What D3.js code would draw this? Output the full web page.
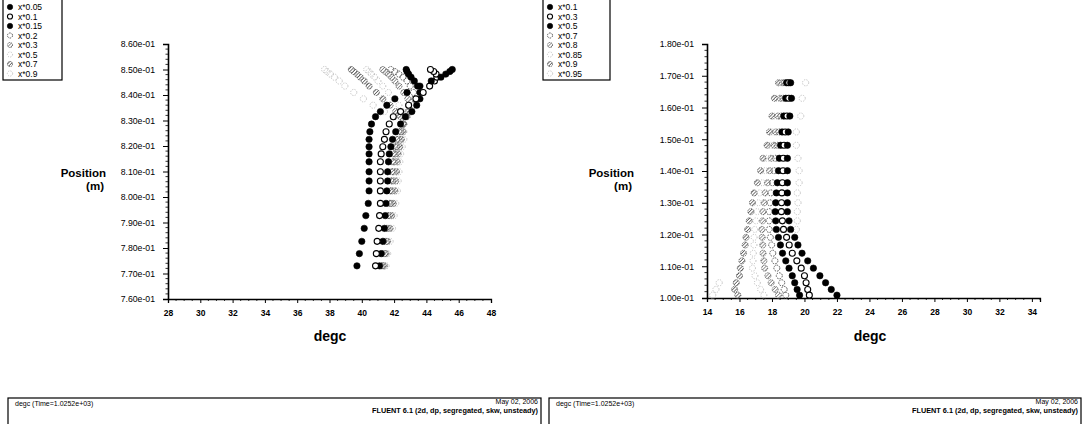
<!DOCTYPE html>
<html>
  <head>
    <title>FLUENT XY plot</title>
    <script src="https://d3js.org/d3.v7.min.js"></script>
    <style>
      body { margin: 0; background: #ffffff; }
      text { font-family: "Liberation Sans", Arial, sans-serif; fill: #000; }
    </style>
  </head>
  <body>
    <svg width="1083" height="424" id="mainsvg" style="background-color: #ffffff;"></svg>
    <script>
        // ---- data: left plot (degc vs position) ----
        const leftNames = ['x*0.05', 'x*0.1', 'x*0.15', 'x*0.2', 'x*0.3', 'x*0.5', 'x*0.7', 'x*0.9'];
        const leftPos = [0.7730, 0.7778, 0.7826, 0.7877, 0.7927, 0.7975, 0.8024, 0.8063, 0.8099, 0.8138, 0.8169, 0.8197, 0.8226,
                         0.8256, 0.8286, 0.8315, 0.8335, 0.8360, 0.8385, 0.8410, 0.8435, 0.8455, 0.8470, 0.8482, 0.8492, 0.8500];
        const left005 = [39.7, 39.85, 40.0, 40.15, 40.25, 40.4, 40.45, 40.45, 40.45, 40.45, 40.45, 40.45, 40.45, 40.5, 40.6, 40.85, 41.15, 41.55, 42.05, 42.8, 43.6, 44.3, 44.9, 45.2, 45.45, 45.6];
        const left010 = [40.85, 40.9, 40.95, 41.05, 41.1, 41.15, 41.15, 41.15, 41.15, 41.15, 41.2, 41.3, 41.4, 41.5, 41.7, 41.95, 42.4, 42.9, 43.35, 43.8, 44.2, 44.5, 44.65, 44.6, 44.45, 44.25];
        const left015 = [41.1, 41.2, 41.3, 41.4, 41.45, 41.5, 41.55, 41.6, 41.6, 41.65, 41.7, 41.8, 41.9, 42.1, 42.4, 42.7, 43.1, 43.4, 43.6, 43.6, 43.45, 43.25, 43.05, 42.9, 42.8, 42.75];
        const left020 = [41.2, 41.25, 41.35, 41.5, 41.6, 41.7, 41.75, 41.8, 41.85, 41.9, 41.95, 42.05, 42.15, 42.3, 42.55, 42.8, 43.0, 43.2, 43.25, 43.2, 43.0, 42.8, 42.55, 42.3, 42.05, 41.8];
        const left030 = [41.3, 41.4, 41.5, 41.6, 41.7, 41.8, 41.85, 41.9, 41.95, 42.0, 42.05, 42.15, 42.25, 42.4, 42.6, 42.75, 42.85, 42.9, 42.85, 42.6, 42.3, 42.05, 41.85, 41.65, 41.45, 41.3];
        const left050 = [41.35, 41.45, 41.55, 41.7, 41.8, 41.9, 41.95, 42.0, 42.05, 42.1, 42.15, 42.25, 42.35, 42.5, 42.6, 42.6, 42.5, 42.3, 42.0, 41.65, 41.3, 41.0, 40.8, 40.6, 40.45, 40.3];
        const left070 = [41.4, 41.5, 41.6, 41.75, 41.85, 41.95, 42.05, 42.1, 42.15, 42.2, 42.25, 42.35, 42.45, 42.55, 42.55, 42.4, 42.1, 41.75, 41.3, 40.9, 40.45, 40.15, 39.9, 39.7, 39.5, 39.35];
        const left090 = [41.5, 41.6, 41.75, 41.9, 42.0, 42.1, 42.2, 42.25, 42.3, 42.35, 42.4, 42.5, 42.6, 42.6, 42.5, 42.0, 41.4, 40.7, 40.1, 39.5, 38.95, 38.6, 38.3, 38.05, 37.85, 37.7];
        const leftXTicks = [28, 30, 32, 34, 36, 38, 40, 42, 44, 46, 48];
        const leftYTicks = [0.76, 0.77, 0.78, 0.79, 0.80, 0.81, 0.82, 0.83, 0.84, 0.85, 0.86];

        // ---- data: right plot ----
        const rightNames = ['x*0.1', 'x*0.3', 'x*0.5', 'x*0.7', 'x*0.8', 'x*0.85', 'x*0.9', 'x*0.95'];
        const rightPos = [0.1678, 0.1629, 0.1573, 0.1523, 0.1481, 0.1440, 0.1401, 0.1363, 0.1331, 0.1300, 0.1272,
                          0.1243, 0.1216, 0.1191, 0.1167, 0.1141, 0.1117, 0.1094, 0.1070, 0.1048, 0.1027, 0.1009];
        const right010 = [19.15, 19.20, 19.10, 19.00, 18.95, 18.95, 18.95, 18.95, 18.95, 18.95, 18.95, 19.05, 19.15, 19.40, 19.60, 19.85, 20.20, 20.55, 20.95, 21.30, 21.65, 22.00];
        const right030 = [19.03, 19.03, 18.92, 18.81, 18.74, 18.70, 18.68, 18.64, 18.61, 18.59, 18.58, 18.64, 18.71, 18.90, 19.06, 19.25, 19.53, 19.80, 20.00, 20.10, 20.20, 20.30];
        const right050 = [18.90, 18.85, 18.73, 18.62, 18.53, 18.45, 18.40, 18.33, 18.27, 18.23, 18.20, 18.23, 18.27, 18.40, 18.52, 18.65, 18.85, 19.05, 19.25, 19.40, 19.55, 19.70];
        const right070 = [18.78, 18.68, 18.55, 18.43, 18.33, 18.20, 18.13, 18.03, 17.93, 17.88, 17.83, 17.83, 17.83, 17.90, 17.98, 18.05, 18.18, 18.30, 18.45, 18.60, 18.75, 18.85];
        const right080 = [18.65, 18.50, 18.37, 18.23, 18.12, 17.95, 17.85, 17.72, 17.58, 17.52, 17.45, 17.42, 17.38, 17.40, 17.43, 17.45, 17.50, 17.55, 17.75, 17.95, 18.20, 18.40];
        const right085 = [18.53, 18.33, 18.18, 18.04, 17.91, 17.70, 17.58, 17.41, 17.24, 17.16, 17.08, 17.01, 16.94, 16.90, 16.89, 16.85, 16.83, 16.80, 16.95, 17.10, 17.30, 17.50];
        const right090 = [18.40, 18.15, 18.00, 17.85, 17.70, 17.45, 17.30, 17.10, 16.90, 16.80, 16.70, 16.60, 16.50, 16.40, 16.35, 16.25, 16.15, 16.05, 16.00, 15.80, 15.70, 15.90];
        const right095 = [20.07, 19.86, 19.77, 19.50, 19.50, 19.60, 19.67, 19.67, 19.56, 19.60, 19.56, 19.56, 19.50, null, null, null, null, null, null, 14.75, 14.55, 14.35];
        const rightXTicks = [14, 16, 18, 20, 22, 24, 26, 28, 30, 32, 34];
        const rightYTicks = [0.10, 0.11, 0.12, 0.13, 0.14, 0.15, 0.16, 0.17, 0.18];

        const footLeft = 'degc  (Time=1.0252e+03)';
        const footDate = 'May 02, 2006';
        const footSolver = 'FLUENT 6.1 (2d, dp, segregated, skw, unsteady)';

        // marker looks, by legend slot (same order in both plots)
        const looks = [
            {fill: '#000', stroke: '#000', sw: 0.6, dash: null, r: 3.2},
            {fill: '#fff', stroke: '#000', sw: 1.1, dash: null, r: 3.0},
            {fill: '#000', stroke: '#000', sw: 0.6, dash: null, r: 3.2},
            {fill: 'none', stroke: '#555', sw: 1.0, dash: '1.6,1.1', r: 3.0},
            {fill: 'url(#hatch)', stroke: '#444', sw: 0.8, dash: '1,0.8', r: 3.0},
            {fill: 'none', stroke: '#b0b0b0', sw: 0.9, dash: '1,1.5', r: 3.0},
            {fill: 'url(#hatchDark)', stroke: '#555', sw: 0.9, dash: '1.2,0.8', r: 3.0},
            {fill: 'none', stroke: '#c0c0c0', sw: 0.9, dash: '1.3,1.2', r: 3.1}
        ];

        const svg = d3.select('#mainsvg');
        const defs = svg.append('defs');
        const hatch = (id, col) => {
            const p = defs.append('pattern').attr('id', id).attr('width', 2.4).attr('height', 2.4)
                .attr('patternUnits', 'userSpaceOnUse').attr('patternTransform', 'rotate(45)');
            p.append('rect').attr('width', 2.4).attr('height', 2.4).attr('fill', '#fff');
            p.append('line').attr('x1', 0).attr('y1', 0).attr('x2', 0).attr('y2', 2.4)
                .attr('stroke', col).attr('stroke-width', 1.3);
        };
        hatch('hatch', '#666');
        hatch('hatchDark', '#333');

        const fmtExp = v => {
            const [m, e] = v.toExponential(2).split('e');
            return m + 'e' + (+e < 0 ? '-' : '+') + String(Math.abs(+e)).padStart(2, '0');
        };

        const styleMark = (sel, k, scale = 1) => sel
            .attr('r', looks[k].r * scale)
            .attr('fill', looks[k].fill)
            .attr('stroke', looks[k].stroke)
            .attr('stroke-width', looks[k].sw)
            .attr('stroke-dasharray', looks[k].dash);

        const renderPanel = function(p){
            const xScale = d3.scaleLinear().domain(p.xDomain).range(p.xRange);
            const yScale = d3.scaleLinear().domain(p.yDomain).range(p.yRange);
            const g = svg.append('g');
            const x0 = p.xRange[0];
            const yb = p.yRange[0];

            // minor ticks
            const yStep = p.yTicks[1] - p.yTicks[0];
            const yMinor = [];
            p.yTicks.slice(1).forEach(t => { for (let i = 1; i < 5; i++) yMinor.push(t - yStep * i / 5); });
            g.selectAll('.ymin').data(yMinor).join('line')
                .attr('x1', x0 - 2.5).attr('x2', x0).attr('y1', d => yScale(d)).attr('y2', d => yScale(d))
                .attr('stroke', '#000').attr('stroke-width', 0.8);
            const xStep = p.xTicks[1] - p.xTicks[0];
            const xMinor = [];
            p.xTicks.forEach(t => { for (let i = 1; i < 4; i++) xMinor.push(t + xStep * i / 4); });
            g.selectAll('.xmin').data(xMinor.filter(d => xScale(d) <= p.xRange[1])).join('line')
                .attr('x1', d => xScale(d)).attr('x2', d => xScale(d)).attr('y1', yb).attr('y2', yb + 2)
                .attr('stroke', '#000').attr('stroke-width', 0.8);

            // axes
            const yAxis = d3.axisLeft(yScale).tickValues(p.yTicks).tickFormat(fmtExp).tickSize(5).tickPadding(8);
            const yG = g.append('g').attr('transform', `translate(${x0},0)`).call(yAxis);
            yG.select('.domain').attr('stroke-width', 1.6);
            yG.selectAll('text').attr('font-size', '8.7px').attr('font-family', '"Liberation Sans", Arial, sans-serif');
            const xAxis = d3.axisBottom(xScale).tickValues(p.xTicks).tickSize(4).tickPadding(7);
            const xG = g.append('g').attr('transform', `translate(0,${yb})`).call(xAxis);
            xG.select('.domain').attr('stroke-width', 1.3);
            xG.selectAll('text').attr('font-size', '8.5px').attr('font-weight', 'bold')
                .attr('font-family', '"Liberation Sans", Arial, sans-serif');

            // axis titles
            g.append('text').attr('x', p.degcX).attr('y', 341).attr('text-anchor', 'middle')
                .attr('font-size', '14px').attr('font-weight', 'bold').text('degc');
            g.append('text').attr('x', p.posX).attr('y', 177).attr('text-anchor', 'end')
                .attr('font-size', '11.5px').attr('font-weight', 'bold').text('Position');
            g.append('text').attr('x', p.posX - 2).attr('y', 190).attr('text-anchor', 'end')
                .attr('font-size', '11.5px').attr('font-weight', 'bold').text('(m)');

            // markers (lightest first so black dots sit on top)
            for (let k = p.series.length - 1; k >= 0; k--) {
                const pts = p.pos.map((y, i) => [p.series[k][i], y]).filter(d => d[0] !== null);
                g.append('g').selectAll('circle').data(pts).join('circle')
                    .attr('cx', d => xScale(d[0])).attr('cy', d => yScale(d[1]))
                    .call(styleMark, k);
            }

            // legend
            const lg = g.append('g').attr('transform', `translate(${p.legendX},0)`);
            lg.append('rect').attr('x', 0).attr('y', -1).attr('width', p.legendW).attr('height', 81)
                .attr('fill', '#fff').attr('stroke', '#000').attr('stroke-width', 1.2);
            p.names.forEach((n, k) => {
                const y = 7 + k * 9.5;
                lg.append('circle').attr('cx', 7).attr('cy', y).call(styleMark, k, 0.85);
                lg.append('text').attr('x', 15).attr('y', y + 3).attr('font-size', '8.5px').text(n);
            });

            // footer box
            const fb = g.append('g').attr('transform', `translate(${p.boxX},398)`);
            fb.append('rect').attr('x', 0).attr('y', 0).attr('width', p.boxW).attr('height', 40)
                .attr('fill', 'none').attr('stroke', '#000').attr('stroke-width', 1.2);
            fb.append('text').attr('x', 7).attr('y', 8).attr('font-size', '7px').text(footLeft);
            fb.append('text').attr('x', p.boxW - 3).attr('y', 6).attr('text-anchor', 'end')
                .attr('font-size', '7px').text(footDate);
            fb.append('text').attr('x', p.boxW - 3).attr('y', 15).attr('text-anchor', 'end')
                .attr('font-size', '7.5px').attr('font-weight', 'bold')
                .attr('textLength', 166).attr('lengthAdjust', 'spacingAndGlyphs').text(footSolver);
        };

        renderPanel({
            names: leftNames, pos: leftPos,
            series: [left005, left010, left015, left020, left030, left050, left070, left090],
            xTicks: leftXTicks, yTicks: leftYTicks,
            xDomain: [28, 48], xRange: [168, 491], yDomain: [0.76, 0.86], yRange: [299, 44],
            degcX: 330, posX: 106, legendX: 3, legendW: 59, boxX: 8, boxW: 533
        });
        renderPanel({
            names: rightNames, pos: rightPos,
            series: [right010, right030, right050, right070, right080, right085, right090, right095],
            xTicks: rightXTicks, yTicks: rightYTicks,
            xDomain: [14, 34.5], xRange: [707, 1040], yDomain: [0.10, 0.18], yRange: [298, 44],
            degcX: 870, posX: 634, legendX: 543, legendW: 67, boxX: 549, boxW: 532
        });
    </script>
  </body>
</html>
